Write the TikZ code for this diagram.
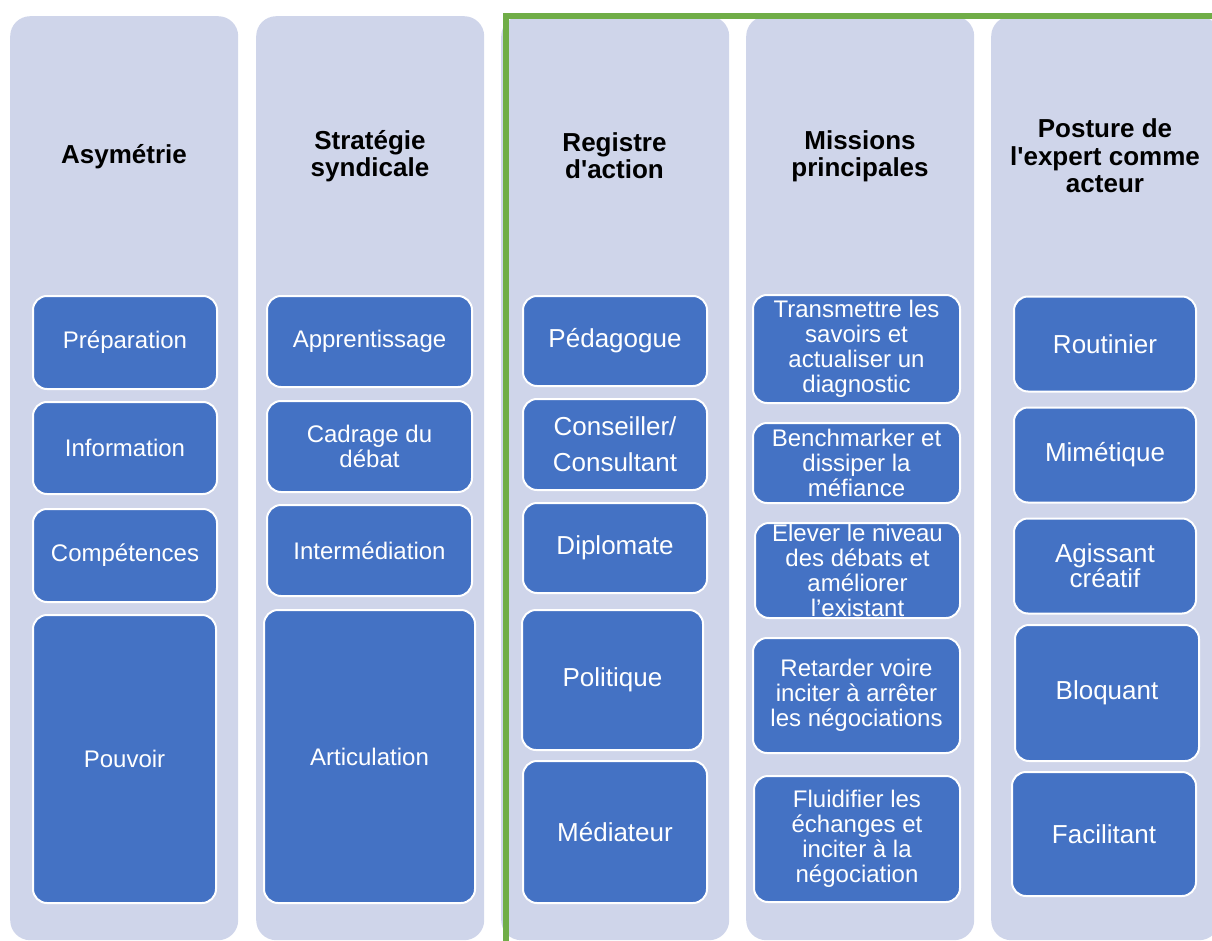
\documentclass[tikz,border=0pt]{standalone}
\usepackage{fontspec}
\setmainfont{Liberation Sans}
\definecolor{colbg}{HTML}{CFD5EA}
\definecolor{boxbg}{HTML}{4472C4}
\definecolor{grn}{HTML}{70AD47}
\tikzset{
  col/.style={fill=colbg, draw=none, rounded corners=20pt, anchor=north west,
    minimum width=228pt, minimum height=924pt, inner sep=0pt},
  ibox/.style={fill=boxbg, draw=white, line width=2pt, rounded corners=14pt,
    text=white, align=center, inner sep=0pt,
    font=\fontsize{24}{25}\selectfont},
  bigtxt/.style={font=\fontsize{26}{27}\selectfont},
  ttl/.style={font=\bfseries\fontsize{26}{27}\selectfont, align=center, text=black},
  grnline/.style={draw=grn, line width=6pt, line join=miter},
}
\begin{document}
\begin{tikzpicture}[x=1pt,y=-1pt]
\useasboundingbox (0,0) rectangle (1212,941);
\clip (0,0) rectangle (1212,941);
% columns
\node[col] (c1) at (10,16) {};
\node[col] (c2) at (256,16) {};
\node[col] (c3) at (501,16) {};
\node[col] (c4) at (746,16) {};
\node[col] (c5) at (991,16) {};
% green frame
\coordinate (gA) at (506,960);
\coordinate (gB) at (506,16);
\coordinate (gC) at (1230,16);
\draw[grnline] (gA) -- (gB) -- (gC);
% titles
\node[ttl] (t1) at (124,157) {Asymétrie};
\node[ttl] (t2) at (370,156) {Stratégie\\syndicale};
\node[ttl] (t3) at (614.5,156) {Registre\\d\textquotesingle action};
\node[ttl] (t4) at (860,156) {Missions\\principales};
\node[ttl, font=\bfseries\fontsize{26}{27.5}\selectfont] (t5) at (1105,156) {Posture de\\l\textquotesingle expert comme\\acteur};
% column 1
\node[ibox, minimum width=184pt, minimum height=93pt] (b11) at (125,342.5) {Préparation};
\node[ibox, minimum width=184pt, minimum height=92pt] (b12) at (125,448) {Information};
\node[ibox, minimum width=184pt, minimum height=93pt] (b13) at (125,555.5) {Compétences};
\node[ibox, minimum width=183pt, minimum height=288pt] (b14) at (124.5,759) {Pouvoir};
% column 2
\node[ibox, minimum width=205pt, minimum height=91pt] (b21) at (369.5,341.5) {Apprentissage};
\node[ibox, minimum width=205pt, minimum height=91pt] (b22) at (369.5,446.5) {Cadrage du\\débat};
\node[ibox, minimum width=205pt, minimum height=91pt] (b23) at (369.5,550.5) {Intermédiation};
\node[ibox, minimum width=211pt, minimum height=293pt] (b24) at (369.5,756.5) {Articulation};
% column 3
\node[ibox, bigtxt, minimum width=184pt, minimum height=90pt] (b31) at (615,341) {Pédagogue};
\node[ibox, font=\fontsize{26}{36}\selectfont, minimum width=184pt, minimum height=91pt] (b32) at (615,444.5) {Conseiller/\\Consultant};
\node[ibox, bigtxt, minimum width=184pt, minimum height=90pt] (b33) at (615,548) {Diplomate};
\node[ibox, bigtxt, minimum width=181pt, minimum height=140pt] (b34) at (612.5,680) {Politique};
\node[ibox, bigtxt, minimum width=184pt, minimum height=142pt] (b35) at (615,832) {Médiateur};
% column 4
\node[ibox, minimum width=207pt, minimum height=108pt] (b41) at (856.5,349) {Transmettre les\\savoirs et\\actualiser un\\diagnostic};
\node[ibox, minimum width=207pt, minimum height=80pt] (b42) at (856.5,463) {Benchmarker et\\dissiper la\\méfiance};
\node[ibox, minimum width=205pt, minimum height=95pt] (b43) at (857.5,570.5) {Elever le niveau\\des débats et\\améliorer\\l’existant};
\node[ibox, minimum width=207pt, minimum height=115pt] (b44) at (856.5,695.5) {Retarder voire\\inciter à arrêter\\les négociations};
\node[ibox, minimum width=206pt, minimum height=126pt] (b45) at (857,839) {Fluidifier les\\échanges et\\inciter à la\\négociation};
% column 5
\node[ibox, bigtxt, minimum width=182pt, minimum height=95pt] (b51) at (1105,344) {Routinier};
\node[ibox, bigtxt, minimum width=182pt, minimum height=95pt] (b52) at (1105,455) {Mimétique};
\node[ibox, font=\fontsize{26}{25}\selectfont, minimum width=182pt, minimum height=95pt] (b53) at (1105,566) {Agissant\\créatif};
\node[ibox, bigtxt, minimum width=184pt, minimum height=136pt] (b54) at (1107,693) {Bloquant};
\node[ibox, bigtxt, minimum width=184pt, minimum height=124pt] (b55) at (1104,834) {Facilitant};
\end{tikzpicture}
\end{document}
